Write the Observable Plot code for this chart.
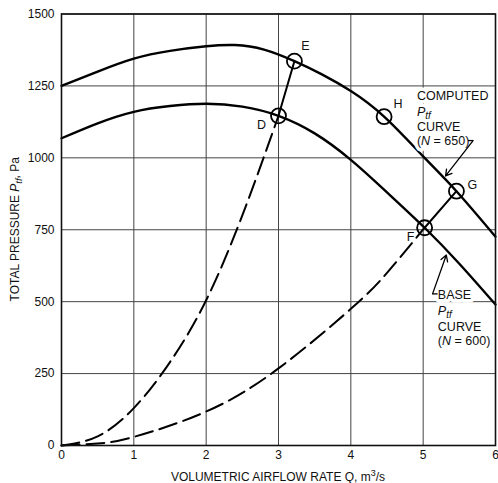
<!DOCTYPE html>
<html><head><meta charset="utf-8">
<script src="https://cdn.jsdelivr.net/npm/d3@7"></script>
<script src="https://cdn.jsdelivr.net/npm/@observablehq/plot@0.6"></script>
<style>
body{margin:0;background:#fff}
svg text{font-family:"Liberation Sans",Arial,sans-serif}
</style>
</head><body><div id="chart"></div>
<script>
// ---- data ----
const xTicks = [0, 1, 2, 3, 4, 5, 6];
const yTicks = [0, 250, 500, 750, 1000, 1250, 1500];

// fan curves
const computedQ = [0, 0.5, 1, 1.5, 2, 2.4, 2.8, 3.22, 3.6, 4, 4.46, 5, 5.46, 6];
const computedP = [1250, 1300, 1345, 1372, 1388, 1392, 1376, 1336, 1290, 1232, 1143, 1005, 884, 726];
const baseQ = [0, 0.5, 1, 1.5, 2, 2.5, 3, 3.5, 4, 4.5, 5.02, 5.5, 6];
const baseP = [1068, 1120, 1160, 1180, 1188, 1178, 1146, 1085, 993, 880, 757, 632, 490];

// system curves (dashed part, then solid part between operating points)
const sysAQ = [0, 0.5, 1, 1.5, 2, 2.5, 3];
const sysAP = [0, 32, 130, 290, 505, 800, 1146];
const sysASolidQ = [3, 3.22];
const sysASolidP = [1146, 1336];
const sysBQ = [0, 0.5, 1, 2, 3, 4, 4.5, 5.02];
const sysBP = [0, 7, 30, 118, 268, 475, 600, 757];
const sysBSolidQ = [5.02, 5.46];
const sysBSolidP = [757, 884];

// operating points
const pointNames = ["D", "E", "F", "G", "H"];
const pointQ = [3.0, 3.22, 5.02, 5.46, 4.46];
const pointP = [1146, 1336, 757, 884, 1143];
const pointDx = [-17, 11, -14, 16, 14];
const pointDy = [9, -15, 9, -6, -13];

// annotation leaders
const arrowQ1 = [5.69, 5.13];
const arrowP1 = [1060, 527];
const arrowQ2 = [5.31, 5.32];
const arrowP2 = [937, 662];
const tickQ1 = [5.62, 5.13];
const tickQ2 = [5.69, 5.20];
const tickP = [1060, 527];

// annotation text blocks
const computedLabelQ = 4.92;
const computedLabelP = [1199, 1145, 1091, 1043];
const baseLabelQ = 5.21;
const baseLabelP = [506, 452, 398, 348];
const computedLines = ["COMPUTED", "Ptf", "CURVE", "(N = 650)"];
const baseLines = ["BASE", "Ptf", "CURVE", "(N = 600)"];

// ---- build tables ----
const zip = (qs, ps) => qs.map((q, i) => ({q, p: ps[i]}));
const computed = zip(computedQ, computedP);
const base = zip(baseQ, baseP);
const sysA = zip(sysAQ, sysAP), sysASolid = zip(sysASolidQ, sysASolidP);
const sysB = zip(sysBQ, sysBP), sysBSolid = zip(sysBSolidQ, sysBSolidP);
const points = pointNames.map((n, i) => ({n, q: pointQ[i], p: pointP[i], dx: pointDx[i], dy: pointDy[i]}));
const arrows = arrowQ1.map((q, i) => ({x1: q, y1: arrowP1[i], x2: arrowQ2[i], y2: arrowP2[i]}));
const ticks = tickQ1.map((q, i) => ({x1: q, x2: tickQ2[i], y: tickP[i]}));

const chart = Plot.plot({
  width: 498, height: 483,
  marginTop: 13.5, marginBottom: 38, marginLeft: 61, marginRight: 3,
  style: {fontSize: "12px", fontFamily: "Liberation Sans, Arial, sans-serif", background: "#fff", color: "#111"},
  x: {domain: [0, 6]},
  y: {domain: [0, 1500]},
  marks: [
    Plot.gridX(xTicks, {stroke: "#444", strokeOpacity: 1, strokeWidth: 1}),
    Plot.gridY(yTicks, {stroke: "#444", strokeOpacity: 1, strokeWidth: 1}),
    Plot.axisX(xTicks, {tickSize: 0, tickPadding: 5, label: null, fontSize: 12, tickFormat: d => String(d)}),
    Plot.axisY(yTicks, {tickSize: 0, tickPadding: 7, label: null, fontSize: 12, tickFormat: d => String(d)}),
    Plot.line(sysA, {x: "q", y: "p", curve: "natural", stroke: "#000", strokeWidth: 2, strokeDasharray: "18,7"}),
    Plot.line(sysASolid, {x: "q", y: "p", stroke: "#000", strokeWidth: 2}),
    Plot.line(sysB, {x: "q", y: "p", curve: "natural", stroke: "#000", strokeWidth: 2, strokeDasharray: "18,7"}),
    Plot.line(sysBSolid, {x: "q", y: "p", stroke: "#000", strokeWidth: 2}),
    Plot.line(computed, {x: "q", y: "p", curve: "natural", stroke: "#000", strokeWidth: 2.4}),
    Plot.line(base, {x: "q", y: "p", curve: "natural", stroke: "#000", strokeWidth: 2.4}),
    Plot.dot(points, {x: "q", y: "p", r: 7.5, stroke: "#000", strokeWidth: 1.8, fill: "none"}),
    Plot.text(points, {x: "q", y: "p", text: "n", fontSize: 12.5, fill: "#111"}),
    Plot.arrow(arrows, {x1: "x1", y1: "y1", x2: "x2", y2: "y2", stroke: "#000", strokeWidth: 1.3, headLength: 8}),
    Plot.link(ticks, {x1: "x1", x2: "x2", y1: "y", y2: "y", stroke: "#000", strokeWidth: 1.3}),
    Plot.frame({stroke: "#111", strokeWidth: 1.6})
  ]
});

const svg = d3.select(chart);
const xs = chart.scale("x"), ys = chart.scale("y");

// offset point labels
svg.selectAll("g[aria-label=text] text").each(function(d, i) {
  const pt = points[i];
  if (!pt) return;
  const t = d3.select(this);
  const tr = t.attr("transform");
  t.attr("transform", (tr || "") + ` translate(${pt.dx},${pt.dy})`);
});

function richLine(g, str, x, y, halo) {
  const t = g.append("text").attr("x", x).attr("y", y)
    .attr("text-anchor", "start")
    .attr("font-size", 12.5);
  if (halo) {
    t.attr("fill", "#fff").attr("stroke", "#fff").attr("stroke-width", 7).attr("stroke-linejoin", "round");
  } else {
    t.attr("fill", "#111");
  }
  if (str === "Ptf") {
    t.append("tspan").attr("font-style", "italic").text("P");
    t.append("tspan").attr("font-style", "italic").attr("font-size", 10).attr("dy", 3).text("tf");
  } else if (str.startsWith("(N")) {
    t.append("tspan").text("(");
    t.append("tspan").attr("font-style", "italic").text("N");
    t.append("tspan").text(str.slice(2));
  } else {
    t.text(str);
  }
}
const haloG = svg.append("g");
const annG = svg.append("g");
for (const [g, h] of [[haloG, true], [annG, false]]) {
  computedLines.forEach((s, i) => richLine(g, s, xs.apply(computedLabelQ), ys.apply(computedLabelP[i]), h));
  baseLines.forEach((s, i) => richLine(g, s, xs.apply(baseLabelQ), ys.apply(baseLabelP[i]), h));
}
// keep leader lines above the label halos
svg.selectAll("g[aria-label=arrow], g[aria-label=link], g[aria-label=frame]").raise();

// axis labels
const xr = xs.range, yr = ys.range;
const xl = svg.append("text").attr("x", (xr[0] + xr[1]) / 2).attr("y", 481)
  .attr("text-anchor", "middle").attr("font-size", 12).attr("fill", "#111");
xl.append("tspan").text("VOLUMETRIC AIRFLOW RATE Q, m");
xl.append("tspan").attr("font-size", 9).attr("dy", -5).text("3");
xl.append("tspan").attr("dy", 5).text("/s");

const yc = (yr[0] + yr[1]) / 2;
const yl = svg.append("text").attr("transform", `translate(19,${yc}) rotate(-90)`)
  .attr("text-anchor", "middle").attr("font-size", 12).attr("fill", "#111");
yl.append("tspan").text("TOTAL PRESSURE ");
yl.append("tspan").attr("font-style", "italic").text("P");
yl.append("tspan").attr("font-style", "italic").attr("font-size", 9.5).attr("dy", 3).text("tf");
yl.append("tspan").attr("dy", -3).text(", Pa");

document.getElementById("chart").append(chart);
</script>
</body></html>
